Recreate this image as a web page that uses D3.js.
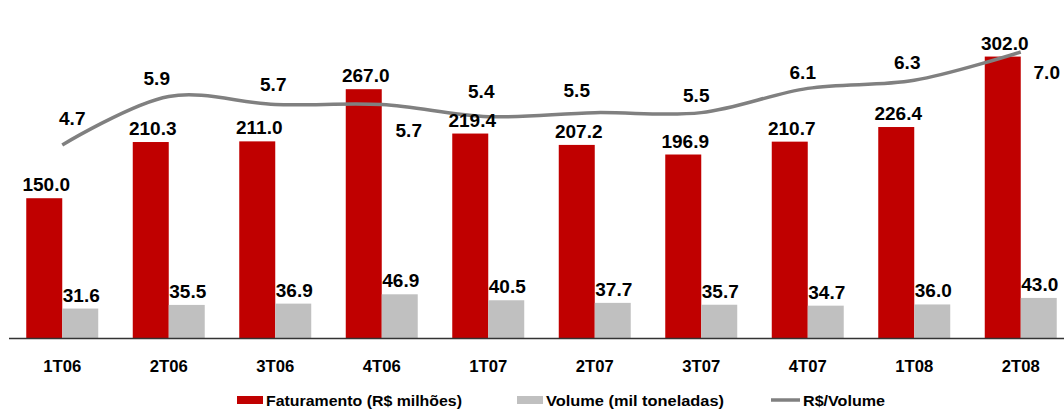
<!DOCTYPE html>
<html>
<head>
<meta charset="utf-8">
<script src="https://cdn.jsdelivr.net/npm/d3@7"></script>
<style>
  body { margin: 0; background: #fff; }
  text { font-family: "Liberation Sans", Arial, sans-serif; font-weight: bold; fill: #000; }
</style>
</head>
<body>
<script>
// data
var categories = ["1T06", "2T06", "3T06", "4T06", "1T07", "2T07", "3T07", "4T07", "1T08", "2T08"];
var faturamento = [150.0, 210.3, 211.0, 267.0, 219.4, 207.2, 196.9, 210.7, 226.4, 302.0];
var volume = [31.6, 35.5, 36.9, 46.9, 40.5, 37.7, 35.7, 34.7, 36.0, 43.0];
var precoVolume = [4.7, 5.9, 5.7, 5.7, 5.4, 5.5, 5.5, 6.1, 6.3, 7.0];
var legendLabels = ["Faturamento (R$ milhões)", "Volume (mil toneladas)", "R$/Volume"];

// label offsets for the line labels (placed by hand in the original)
var lineLabelDx = [10, -12, -2, 27, -7, -18, -5, -5, -7, 26];
var lineLabelDy = [-27, -18, -20, 26, -25, -22, -17, -16, -18, 20];

var width = 1064, height = 410;
var base = 338;

var svg = d3.select("body").append("svg")
    .attr("width", width)
    .attr("height", height);

var x = d3.scaleBand()
    .domain(categories)
    .range([9, 1074]);

var barW = x.bandwidth() * 0.338;

// bars share one scale, the line has its own
var y = d3.scaleLinear()
    .domain([0, 362.7])
    .range([base, 0]);

var y2 = d3.scaleLinear()
    .domain([0, 8])
    .range([335, 335 - 8 * 40.43]);

function cx(c) { return x(c) + x.bandwidth() / 2; }

// red bars
svg.selectAll(".fat")
    .data(faturamento)
  .enter().append("rect")
    .attr("class", "fat")
    .attr("x", function(d, i) { return cx(categories[i]) - barW; })
    .attr("y", function(d) { return y(d); })
    .attr("width", barW)
    .attr("height", function(d) { return base - y(d); })
    .attr("fill", "#C00000");

// gray bars
svg.selectAll(".vol")
    .data(volume)
  .enter().append("rect")
    .attr("class", "vol")
    .attr("x", function(d, i) { return cx(categories[i]); })
    .attr("y", function(d) { return y(d); })
    .attr("width", barW)
    .attr("height", function(d) { return base - y(d); })
    .attr("fill", "#C0C0C0");

// axis line
svg.append("line")
    .attr("x1", 9).attr("x2", width)
    .attr("y1", base + 0.5).attr("y2", base + 0.5)
    .attr("stroke", "#333")
    .attr("stroke-width", 1.5);

// category labels
svg.selectAll(".cat")
    .data(categories)
  .enter().append("text")
    .attr("class", "cat")
    .attr("x", function(d) { return cx(d); })
    .attr("y", 372)
    .attr("text-anchor", "middle")
    .style("font-size", "17px")
    .attr("textLength", 38)
    .attr("lengthAdjust", "spacingAndGlyphs")
    .text(function(d) { return d; });

// line
var line = d3.line()
    .x(function(d, i) { return cx(categories[i]); })
    .y(function(d) { return y2(d); })
    .curve(d3.curveCatmullRom.alpha(0.5));

svg.append("path")
    .datum(precoVolume)
    .attr("d", line)
    .attr("fill", "none")
    .attr("stroke", "#808080")
    .attr("stroke-width", 3.5);

// bar labels
svg.selectAll(".fatLabel")
    .data(faturamento)
  .enter().append("text")
    .attr("class", "fatLabel")
    .attr("x", function(d, i) { return cx(categories[i]) - barW / 2 + 2; })
    .attr("y", function(d) { return y(d) - 7; })
    .attr("text-anchor", "middle")
    .style("font-size", "19px")
    .text(function(d) { return d.toFixed(1); });

svg.selectAll(".volLabel")
    .data(volume)
  .enter().append("text")
    .attr("class", "volLabel")
    .attr("x", function(d, i) { return cx(categories[i]) + barW / 2 + 1; })
    .attr("y", function(d) { return y(d) - 7; })
    .attr("text-anchor", "middle")
    .style("font-size", "19px")
    .text(function(d) { return d.toFixed(1); });

// line labels
svg.selectAll(".lineLabel")
    .data(precoVolume)
  .enter().append("text")
    .attr("class", "lineLabel")
    .attr("x", function(d, i) { return cx(categories[i]) + lineLabelDx[i]; })
    .attr("y", function(d, i) { return y2(d) + lineLabelDy[i]; })
    .attr("dy", "0.35em")
    .attr("text-anchor", "middle")
    .style("font-size", "19px")
    .text(function(d) { return d.toFixed(1); });

// legend
var leg = [
  {x: 237, w: 26, text: legendLabels[0], len: 196, kind: "rect", color: "#C00000"},
  {x: 517, w: 26, text: legendLabels[1], len: 178, kind: "rect", color: "#C0C0C0"},
  {x: 771, w: 29, text: legendLabels[2], len: 82, kind: "line", color: "#808080"}
];

var lg = svg.selectAll(".leg")
    .data(leg)
  .enter().append("g")
    .attr("class", "leg");

lg.filter(function(d) { return d.kind === "rect"; })
  .append("rect")
    .attr("x", function(d) { return d.x; })
    .attr("y", 396)
    .attr("width", function(d) { return d.w; })
    .attr("height", 8)
    .attr("fill", function(d) { return d.color; });

lg.filter(function(d) { return d.kind === "line"; })
  .append("line")
    .attr("x1", function(d) { return d.x; })
    .attr("x2", function(d) { return d.x + d.w; })
    .attr("y1", 400).attr("y2", 400)
    .attr("stroke", function(d) { return d.color; })
    .attr("stroke-width", 3.5);

lg.append("text")
    .attr("x", function(d) { return d.x + d.w + 3; })
    .attr("y", 405.5)
    .style("font-size", "15px")
    .attr("textLength", function(d) { return d.len; })
    .attr("lengthAdjust", "spacingAndGlyphs")
    .text(function(d) { return d.text; });
</script>
</body>
</html>
